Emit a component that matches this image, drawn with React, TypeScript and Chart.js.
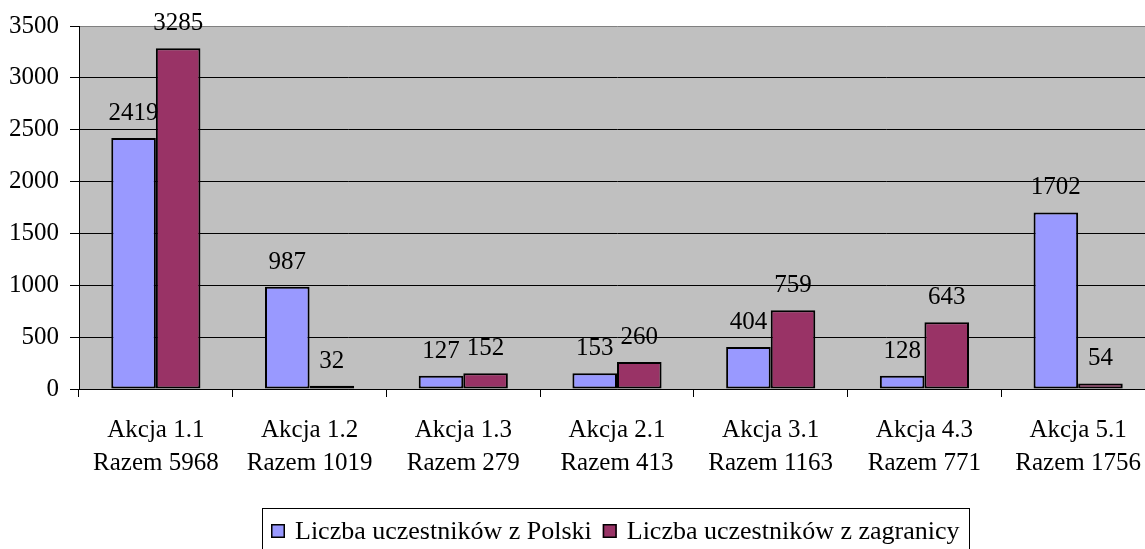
import React, { useEffect, useRef } from "react";
import { Chart, registerables } from "chart.js";

Chart.register(...registerables);

const categories: string[][] = [
  ["Akcja 1.1", "Razem 5968"],
  ["Akcja 1.2", "Razem 1019"],
  ["Akcja 1.3", "Razem 279"],
  ["Akcja 2.1", "Razem 413"],
  ["Akcja 3.1", "Razem 1163"],
  ["Akcja 4.3", "Razem 771"],
  ["Akcja 5.1", "Razem 1756"],
];
const seriesNames = ["Liczba uczestników z Polski", "Liczba uczestników z zagranicy"];
const polska = [2419, 987, 127, 153, 404, 128, 1702];
const zagranica = [3285, 32, 152, 260, 759, 643, 54];
const colors = ["#9999FF", "#993366"];
const yMin = 0;
const yMax = 3500;
const yStep = 500;

const FONT = '"Liberation Serif", "Times New Roman", serif';

const bgPlugin = {
  id: "plotBg",
  beforeDraw(chart: any) {
    const { ctx, chartArea } = chart;
    ctx.save();
    ctx.fillStyle = "#C0C0C0";
    ctx.fillRect(chartArea.left, chartArea.top, chartArea.right - chartArea.left, chartArea.bottom - chartArea.top);
    ctx.restore();
  },
};

const labelPlugin = {
  id: "valueLabels",
  afterDatasetsDraw(chart: any) {
    const { ctx } = chart;
    ctx.save();
    ctx.font = `25px ${FONT}`;
    ctx.fillStyle = "#000";
    ctx.textAlign = "center";
    ctx.textBaseline = "alphabetic";
    chart.data.datasets.forEach((ds: any, i: number) => {
      const meta = chart.getDatasetMeta(i);
      meta.data.forEach((el: any, j: number) => {
        ctx.fillText(String(ds.data[j]), el.x, el.y - 18);
      });
    });
    ctx.restore();
  },
};

const legendPlugin = {
  id: "boxLegend",
  afterDraw(chart: any) {
    const { ctx } = chart;
    ctx.save();
    ctx.strokeStyle = "#000";
    ctx.lineWidth = 1;
    ctx.strokeRect(262.5, 508.5, 707, 60);
    ctx.font = `26px ${FONT}`;
    ctx.textBaseline = "alphabetic";
    ctx.textAlign = "left";
    let x = 271;
    seriesNames.forEach((name, i) => {
      ctx.fillStyle = colors[i];
      ctx.fillRect(x, 524, 14, 14);
      ctx.lineWidth = 1.5;
      ctx.strokeStyle = "#000";
      ctx.strokeRect(x + 0.75, 524.75, 12.5, 12.5);
      ctx.fillStyle = "#000";
      const tx = x + 24;
      ctx.fillText(name, tx, 539);
      x = tx + ctx.measureText(name).width + 11;
    });
    ctx.restore();
  },
};

export default function App() {
  const ref = useRef<HTMLCanvasElement>(null);
  useEffect(() => {
    if (!ref.current) return;
    Chart.defaults.font.family = FONT;
    const chart = new Chart(ref.current, {
      type: "bar",
      data: {
        labels: categories,
        datasets: [
          {
            label: seriesNames[0],
            data: polska,
            backgroundColor: colors[0],
            borderColor: "#000",
            borderWidth: 2,
            borderSkipped: false,
            categoryPercentage: 0.58,
            barPercentage: 1.0,
          },
          {
            label: seriesNames[1],
            data: zagranica,
            backgroundColor: colors[1],
            borderColor: "#000",
            borderWidth: 2,
            borderSkipped: false,
            categoryPercentage: 0.58,
            barPercentage: 1.0,
          },
        ],
      },
      options: {
        responsive: false,
        animation: false,
        devicePixelRatio: 1,
        layout: { padding: { left: 0, top: 25, right: 5, bottom: 61 } },
        plugins: {
          legend: { display: false },
          tooltip: { enabled: false },
          title: { display: false },
        },
        scales: {
          x: {
            afterFit: (s: any) => {
              s.height = 99;
            },
            grid: {
              display: true,
              drawOnChartArea: false,
              drawTicks: true,
              tickLength: 8,
              color: "#000",
              offset: true,
            },
            border: { display: true, color: "#000", width: 1 },
            ticks: {
              color: "#000",
              font: { size: 25, family: FONT, lineHeight: 1.32 },
              padding: 17,
              maxRotation: 0,
              autoSkip: false,
            },
          },
          y: {
            min: yMin,
            max: yMax,
            afterFit: (s: any) => {
              s.width = 79;
            },
            grid: {
              color: (c: any) => (c.tick && c.tick.value === yMax ? "#808080" : "#000"),
              tickColor: "#000",
              tickLength: 9,
              drawTicks: true,
            },
            border: { display: true, color: "#000", width: 1 },
            ticks: {
              stepSize: yStep,
              color: "#000",
              font: { size: 25, family: FONT },
              padding: 11,
              callback: (v: any) => String(v),
            },
          },
        },
      },
      plugins: [bgPlugin, labelPlugin, legendPlugin],
    });
    return () => chart.destroy();
  }, []);
  return (
    <div style={{ position: "fixed", left: 0, top: 0, width: 1145, height: 549, overflow: "hidden", background: "#fff" }}>
      <canvas ref={ref} width={1160} height={549} style={{ display: "block", width: 1160, height: 549 }} />
    </div>
  );
}
